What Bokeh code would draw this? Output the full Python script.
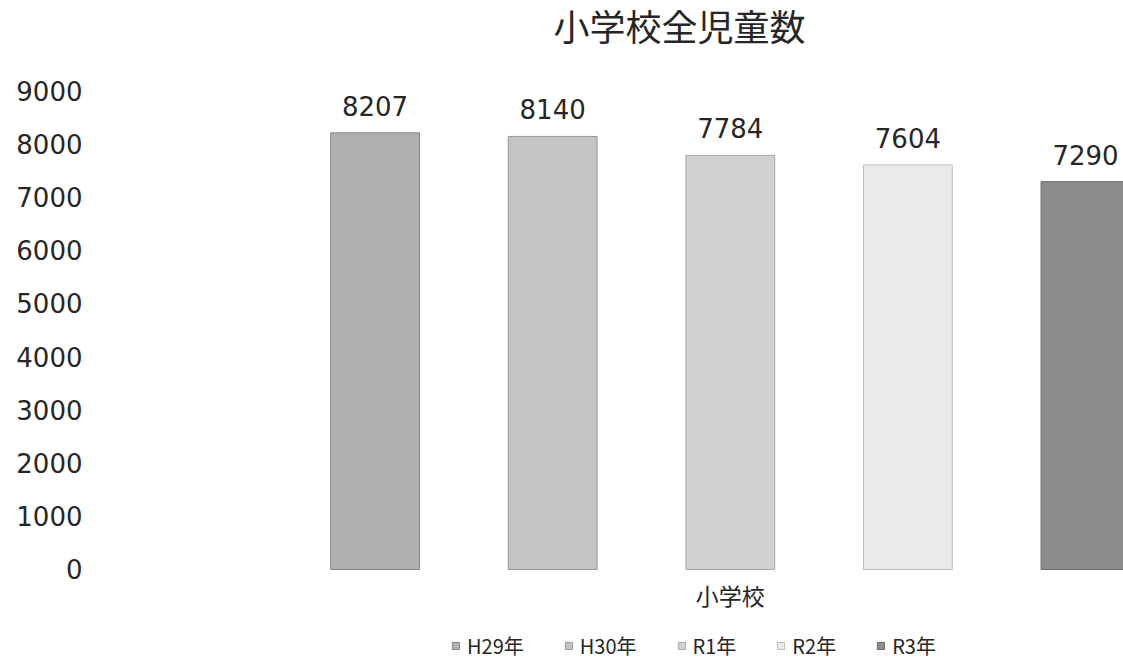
from bokeh.plotting import figure
from bokeh.models import (ColumnDataSource, Range1d, FixedTicker, LabelSet,
                          Label, Legend, LegendItem)
from bokeh.core.properties import value
from bokeh.embed import file_html
from bokeh.resources import INLINE

# ---- data ----
title_text = "小学校全児童数"
category_label = "小学校"
years = ["H29年", "H30年", "R1年", "R2年", "R3年"]
counts = [8207, 8140, 7784, 7604, 7290]
y_ticks = [0, 1000, 2000, 3000, 4000, 5000, 6000, 7000, 8000, 9000]

# ---- styles ----
bar_colors = ["#b0b0b0", "#c4c4c4", "#d1d1d1", "#eaeaea", "#8c8c8c"]
edge_colors = ["#858585", "#969696", "#a5a5a5", "#bababa", "#666666"]
CJK = "Noto Sans CJK JP"
NUM = "DejaVu Sans"
TXT = "#262626"

positions = list(range(len(years)))
src = ColumnDataSource(dict(x=positions, top=counts, year=years,
                            label=[str(v) for v in counts],
                            color=bar_colors, edge=edge_colors))

p = figure(width=1123, height=664, output_backend="svg", toolbar_location=None,
           x_range=Range1d(-1.591, 4.214), y_range=Range1d(-1786, 10695),
           x_axis_location=None,
           min_border_left=92, min_border_right=0,
           min_border_top=0, min_border_bottom=0)
p.title.visible = False
p.title.standoff = 0
p.title.text_font_size = "0px"
p.outline_line_color = None
p.grid.visible = False
p.background_fill_color = "white"
p.border_fill_color = "white"

r = p.vbar(x="x", top="top", bottom=0, width=0.5, source=src,
           fill_color="color", line_color="edge", line_width=1)

# y axis
ya = p.yaxis[0]
ya.ticker = FixedTicker(ticks=y_ticks)
ya.axis_line_color = None
ya.major_tick_line_color = None
ya.minor_tick_line_color = None
ya.major_tick_out = 0
ya.major_tick_in = 0
ya.major_label_standoff = 10
ya.major_label_text_font = NUM
ya.major_label_text_font_size = "26px"
ya.major_label_text_color = TXT

# value labels
labels = LabelSet(x="x", y="top", text="label", source=src,
                  text_align="center", text_baseline="alphabetic",
                  y_offset=17, text_font=value(NUM),
                  text_font_size="26px", text_color=TXT)
p.add_layout(labels)

# chart title (screen units, measured from the plot frame's lower left)
title = Label(x=587, y=640, x_units="screen", y_units="screen",
              text=title_text, text_align="center", text_baseline="middle",
              text_font=CJK, text_font_size="36px", text_color=TXT)
p.add_layout(title)

# category label under bars (centred under the middle bar)
cat = Label(x=positions[len(positions) // 2], y=0, y_offset=-26,
            text=category_label, text_align="center", text_baseline="middle",
            text_font=CJK, text_font_size="23px", text_color=TXT)
p.add_layout(cat)

# legend
items = [LegendItem(label=years[i], renderers=[r], index=i) for i in positions]
legend = Legend(items=items, orientation="horizontal", location=(359, 4),
                glyph_width=9, glyph_height=9, label_standoff=7, spacing=40,
                padding=0, margin=0, border_line_color=None,
                background_fill_alpha=0,
                label_text_font=CJK, label_text_font_size="20px",
                label_text_color=TXT)
p.add_layout(legend, "center")

open("out.html", "w").write(file_html(p, INLINE))
